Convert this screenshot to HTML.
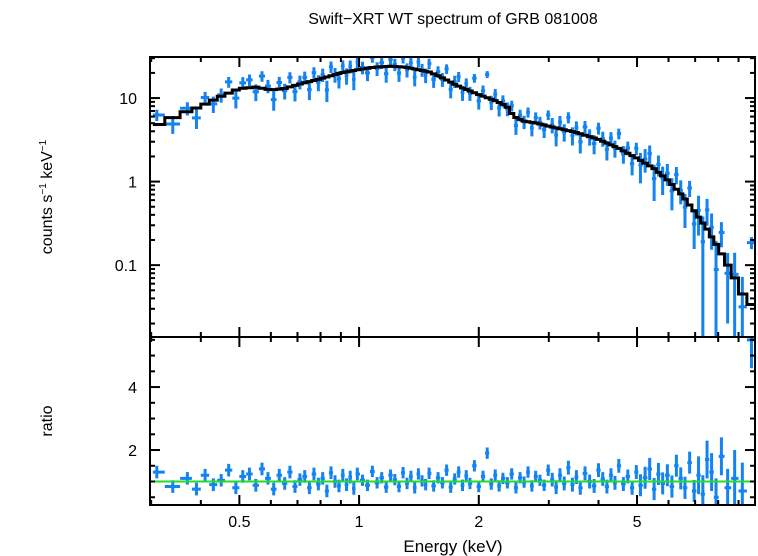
<!DOCTYPE html>
<html><head><meta charset="utf-8"><style>
html,body{margin:0;padding:0;background:#fff;}
svg{display:block;font-family:"Liberation Sans",sans-serif;}
</style></head><body>
<svg id="chart" width="758" height="556">
<text x="453" y="24" font-size="16" text-anchor="middle">Swift−XRT WT spectrum of GRB 081008</text>
<text x="453" y="552" font-size="17" text-anchor="middle">Energy (keV)</text>
<text transform="translate(52,197) rotate(-90)" font-size="16" text-anchor="middle">counts s<tspan font-size="10" dy="-6">−1</tspan><tspan dy="6"> keV</tspan><tspan font-size="10" dy="-6">−1</tspan></text>
<text transform="translate(52,421) rotate(-90)" font-size="16" text-anchor="middle">ratio</text>
<g id="plot"></g>
</svg>
<script>
const energies = [
0.31,0.34,0.37,0.39,0.41,0.43,0.45,0.47,0.49,0.51,
0.53,0.55,0.57,0.59,0.61,0.63,0.65,0.67,0.69,0.71,
0.73,0.75,0.77,0.79,0.81,0.83,0.85,0.87,0.89,0.91,
0.93,0.95,0.97,0.99,1.02,1.05,1.08,1.11,1.14,1.17,
1.20,1.23,1.26,1.29,1.32,1.35,1.38,1.41,1.44,1.47,
1.50,1.54,1.58,1.62,1.66,1.70,1.74,1.78,1.82,1.86,
1.90,1.95,2.00,2.05,2.10,2.15,2.20,2.25,2.30,2.36,
2.42,2.48,2.54,2.60,2.66,2.72,2.78,2.85,2.92,2.99,
3.06,3.13,3.20,3.28,3.36,3.44,3.52,3.60,3.70,3.80,
3.90,4.00,4.10,4.20,4.30,4.40,4.50,4.62,4.74,4.86,
4.98,5.10,5.24,5.38,5.52,5.66,5.80,5.96,6.12,6.28,
6.44,6.60,6.78,6.96,7.14,7.32,7.50,7.70,7.90,8.15,
8.45,8.80,9.20,9.70];
const ratios = [
1.30,0.84,1.10,0.76,1.20,0.90,1.04,1.36,0.80,1.16,
1.24,0.88,1.40,1.10,0.76,1.20,0.94,1.30,0.84,1.06,
1.16,0.80,1.24,0.92,1.10,0.70,1.28,1.00,0.86,1.20,
0.90,1.14,0.78,1.24,1.04,0.88,1.32,0.96,1.12,0.82,
1.20,1.06,0.84,1.28,0.94,1.16,0.80,1.24,1.02,0.90,
1.26,0.86,1.12,0.96,1.36,0.82,1.08,1.30,0.88,1.18,
0.94,1.50,0.84,1.16,1.90,0.92,1.20,0.86,1.10,0.96,
1.24,0.80,1.12,0.98,1.30,0.86,1.16,1.04,0.88,1.36,
1.06,0.82,1.20,0.94,1.44,0.90,1.14,0.80,1.26,1.00,
0.86,1.36,1.08,0.84,1.20,0.96,1.50,0.92,1.16,0.80,
1.30,0.88,1.12,1.40,0.76,1.24,0.94,1.20,0.84,1.50,
1.10,0.80,1.60,0.70,1.20,0.60,1.70,1.30,0.50,1.80,
0.80,1.10,0.70,5.50];
const modelE = [0.30,0.33,0.36,0.40,0.45,0.50,0.55,0.60,0.65,0.70,0.80,0.90,1.0,1.1,1.2,1.3,1.4,1.5,1.6,1.7,1.8,2.0,2.2,2.35,2.45,2.6,2.8,3.0,3.5,4.0,4.5,5.0,5.5,6.0,6.5,7.0,7.5,8.0,8.5,9.0,9.3,10.0];
const modelCounts = [4.5,5.5,6.5,8.0,10.5,13,13.5,12.5,13,14.5,17,20,22,23.5,24,23.5,22,20.5,18,15.5,13.5,11,9.3,8,6,5.3,5.0,4.6,3.9,3.2,2.5,1.9,1.45,1.02,0.68,0.43,0.27,0.16,0.095,0.058,0.04,0.03];
const xTicksMajor = [0.5,1,2,5];
const xTickLabels = ["0.5","1","2","5"];
const yTicksTop = [0.1,1,10];
const yTickLabelsTop = ["0.1","1","10"];
const yTicksRatio = [2,4];
const yTickLabelsRatio = ["2","4"];

const L=150,R=755,T1=57,B1=337,T2=337,B2=505;
const X0=0.298,X1=9.9;
const xs=e=>L+(Math.log10(e)-Math.log10(X0))/(Math.log10(X1)-Math.log10(X0))*(R-L);
const Y1min=0.0138,Y1max=31;
const y1=v=>B1-(Math.log10(v)-Math.log10(Y1min))/(Math.log10(Y1max)-Math.log10(Y1min))*(B1-T1);
const R0=0.254,R1=5.59;
const y2=v=>B2-(v-R0)/(R1-R0)*(B2-T2);
const NS="http://www.w3.org/2000/svg";
const g=document.getElementById('plot');
function mk(tag,attrs,parent){const el=document.createElementNS(NS,tag);for(const k in attrs)el.setAttribute(k,attrs[k]);(parent||g).appendChild(el);return el;}
function model(e){
  if(e<=modelE[0])return modelCounts[0];
  for(let i=1;i<modelE.length;i++){if(e<=modelE[i]){const t=(Math.log(e)-Math.log(modelE[i-1]))/(Math.log(modelE[i])-Math.log(modelE[i-1]));return Math.exp(Math.log(modelCounts[i-1])+t*(Math.log(modelCounts[i])-Math.log(modelCounts[i-1])));}}
  return modelCounts[modelCounts.length-1];
}
function relErr(e){return e<1?0.2:e<3?0.18:e<5?0.22:e<7?0.35:e<8.5?0.6:0.9;}
const clip1=mk('clipPath',{id:'c1'});mk('rect',{x:L,y:T1,width:R-L,height:B1-T1},clip1);
const clip2=mk('clipPath',{id:'c2'});mk('rect',{x:L,y:T2,width:R-L,height:B2-T2},clip2);
const gd1=mk('g',{'clip-path':'url(#c1)'});


const gd2=mk('g',{'clip-path':'url(#c2)'});


const edges=[];
for(let i=0;i<energies.length;i++){
  const lo=i==0?X0+0.005:Math.sqrt(energies[i-1]*energies[i]);
  const hi=i==energies.length-1?X1:Math.sqrt(energies[i]*energies[i+1]);
  edges.push([lo,hi]);
}
const blue='#1283f0';
energies.forEach((e,i)=>{
  const m=model(e),r=ratios[i],er=relErr(e);
  const c=m*r,ce=m*er;
  const xa=xs(edges[i][0]),xb=xs(edges[i][1]),xc=xs(e);
  const p1=mk('path',{d:`M${xa},${y1(c)}H${xb}M${xc},${y1(c+ce)}V${y1(Math.max(c-ce,0.005))}`,stroke:blue,'stroke-width':3,fill:'none'},gd1);
  
  
  const p2=mk('path',{d:`M${xa},${y2(r)}H${xb}M${xc},${y2(r+er)}V${y2(r-er)}`,stroke:blue,'stroke-width':3,fill:'none'},gd2);
  
  
});
let d='';
energies.forEach((e,i)=>{const yy=y1(model(e));const xa=xs(edges[i][0]),xb=xs(edges[i][1]);d+=(i==0?`M${xa},${yy}`:`V${yy}`)+`H${xb}`;});
const mp=mk('path',{d:d,stroke:'#000','stroke-width':3,fill:'none'},gd1);


const gl=mk('line',{x1:L,x2:R,y1:y2(1),y2:y2(1),stroke:'#22dd22','stroke-width':2},gd2);


[[T1,B1],[T2,B2]].forEach(([t,b])=>{const f=mk('rect',{x:L,y:t,width:R-L,height:b-t,fill:'none',stroke:'#000','stroke-width':2});});
const minorX=[0.3,0.4,0.6,0.7,0.8,0.9,3,4,6,7,8,9];
function xt(e,len){[[T1,1],[B1,-1],[T2,1],[B2,-1]].forEach(([yy,s])=>mk('line',{x1:xs(e),x2:xs(e),y1:yy,y2:yy+s*len,stroke:'#000','stroke-width':2}));}
minorX.forEach(e=>xt(e,5));xTicksMajor.forEach(e=>xt(e,10));
xTicksMajor.forEach((e,i)=>{const t=mk('text',{x:xs(e),y:527,'font-size':16,'text-anchor':'middle'});t.textContent=xTickLabels[i];});
for(let dec=-2;dec<=1;dec++){for(let k=1;k<=9;k++){const v=k*Math.pow(10,dec);if(v<Y1min||v>Y1max)continue;const len=k==1?10:5;const yy=y1(v);mk('line',{x1:L,x2:L+len,y1:yy,y2:yy,stroke:'#000','stroke-width':2});mk('line',{x1:R,x2:R-len,y1:yy,y2:yy,stroke:'#000','stroke-width':2});}}
yTicksTop.forEach((v,i)=>{const t=mk('text',{x:137,y:y1(v)+6,'font-size':16,'text-anchor':'end'});t.textContent=yTickLabelsTop[i];});
for(let v=0.5;v<=5.5;v+=0.5){const len=Number.isInteger(v/2)?10:5;const yy=y2(v);mk('line',{x1:L,x2:L+len,y1:yy,y2:yy,stroke:'#000','stroke-width':2});mk('line',{x1:R,x2:R-len,y1:yy,y2:yy,stroke:'#000','stroke-width':2});}
yTicksRatio.forEach((v,i)=>{const t=mk('text',{x:137,y:y2(v)+6,'font-size':16,'text-anchor':'end'});t.textContent=yTickLabelsRatio[i];});
</script>
</body></html>
